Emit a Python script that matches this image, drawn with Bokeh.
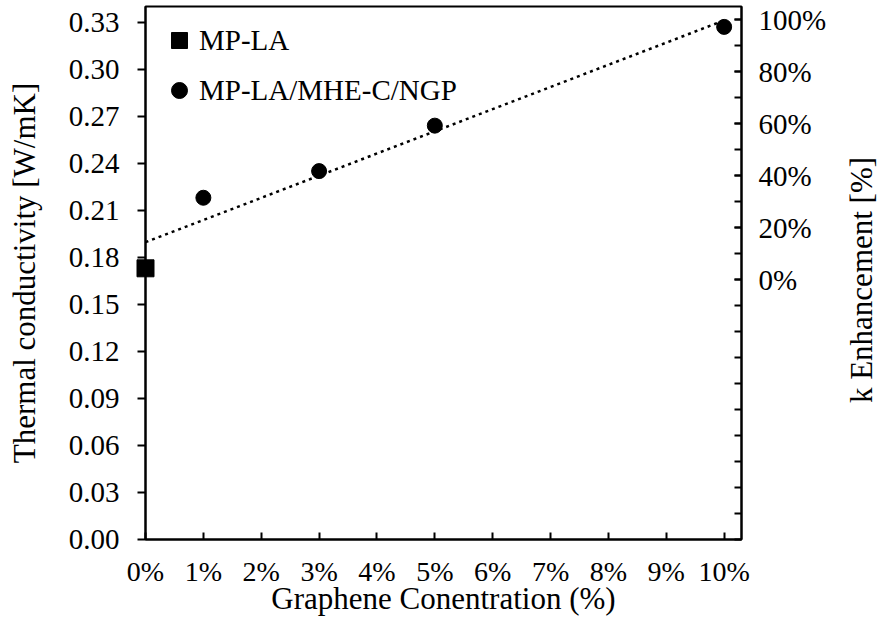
import math
import numpy as np
from bokeh.plotting import figure
from bokeh.models import (Range1d, LinearAxis, FixedTicker, Legend, LegendItem,
                          ColumnDataSource)
from bokeh.core.properties import value
from bokeh.embed import file_html
from bokeh.resources import INLINE

# ---- data ----
base_x = [0]
base_k = [0.173]
comp_x = [1, 3, 5, 10]
comp_k = [0.218, 0.235, 0.264, 0.327]

x_ticks = [0, 1, 2, 3, 4, 5, 6, 7, 8, 9, 10]
x_tick_labels = ["0%", "1%", "2%", "3%", "4%", "5%", "6%", "7%", "8%", "9%", "10%"]
k_ticks = [0.00, 0.03, 0.06, 0.09, 0.12, 0.15, 0.18, 0.21, 0.24, 0.27, 0.30, 0.33]
k_tick_labels = ["0.00", "0.03", "0.06", "0.09", "0.12", "0.15", "0.18", "0.21",
                 "0.24", "0.27", "0.30", "0.33"]
enh_ticks = [0.0, 0.2, 0.4, 0.6, 0.8, 1.0]
enh_tick_labels = ["0%", "20%", "40%", "60%", "80%", "100%"]
enh_minor_ticks = [round(-1.0 + 0.1 * i, 1) for i in range(21)]
enh_title = "k Enhancement [%]"

FONT = "Liberation Serif"
TICK_FS = "29px"
XTICK_FS = "28px"
TITLE_FS = "31px"
FRAME_W, FRAME_H = 596, 533

x_range = Range1d(0, 10.3)
y_range = Range1d(0, 0.34)

p = figure(frame_width=FRAME_W, frame_height=FRAME_H, output_backend="svg",
           toolbar_location=None, x_range=x_range, y_range=y_range,
           min_border_left=145, min_border_right=137, min_border_top=6,
           min_border_bottom=73,
           x_axis_label="Graphene Conentration (%)",
           y_axis_label="Thermal conductivity [W/mK]")
p.extra_y_ranges = {"enh": Range1d(-1.0, 1.05)}
p.xgrid.visible = False
p.ygrid.visible = False
p.outline_line_color = "black"
p.outline_line_width = 2
p.outline_line_alpha = 1.0
p.background_fill_color = "white"
p.border_fill_color = "white"

# bottom axis
xa = p.xaxis[0]
xa.ticker = FixedTicker(ticks=x_ticks, minor_ticks=[])
xa.major_label_overrides = {t: l for t, l in zip(x_ticks, x_tick_labels)}
xa.major_tick_in = 7
xa.major_tick_out = 0
xa.minor_tick_in = 0
xa.minor_tick_out = 0
xa.major_label_standoff = 16
xa.axis_label_standoff = -9

# left axis
ya = p.yaxis[0]
ya.ticker = FixedTicker(ticks=k_ticks, minor_ticks=[])
ya.major_label_overrides = {t: l for t, l in zip(k_ticks, k_tick_labels)}
ya.major_tick_in = 0
ya.major_tick_out = 8
ya.minor_tick_in = 0
ya.minor_tick_out = 0
ya.major_label_standoff = 18
ya.axis_label_standoff = 24

# right axis (secondary: k enhancement)
ra = LinearAxis(y_range_name="enh")
ra.ticker = FixedTicker(ticks=enh_ticks, minor_ticks=enh_minor_ticks)
ra.major_label_overrides = {t: l for t, l in zip(enh_ticks, enh_tick_labels)}
ra.major_tick_in = 7
ra.major_tick_out = 0
ra.minor_tick_in = 7
ra.minor_tick_out = 0
ra.major_label_standoff = 17
p.add_layout(ra, "right")

for ax in (xa, ya, ra):
    ax.axis_line_color = "black"
    ax.axis_line_width = 2
    ax.major_tick_line_color = "black"
    ax.major_tick_line_width = 2
    ax.minor_tick_line_color = "black"
    ax.minor_tick_line_width = 2
    ax.major_label_text_font = FONT
    ax.major_label_text_font_size = TICK_FS
    ax.major_label_text_font_style = "normal"
    ax.major_label_text_color = "black"
    ax.axis_label_text_font = FONT
    ax.axis_label_text_font_size = TITLE_FS
    ax.axis_label_text_font_style = "normal"
    ax.axis_label_text_color = "black"
xa.major_label_text_font_size = XTICK_FS

# right-axis title, reading bottom-to-top like the left one; placed in the
# right margin (716 px right of the frame's left edge, 7 px below its middle)
title_x = x_range.start + (x_range.end - x_range.start) * 716 / FRAME_W
title_y = y_range.start + (y_range.end - y_range.start) * (FRAME_H / 2 - 7) / FRAME_H
p.text(x=[title_x], y=[title_y], text=[enh_title], angle=math.pi / 2,
       text_align="center", text_baseline="alphabetic",
       text_font=value(FONT), text_font_size=TITLE_FS, text_color="black",
       level="overlay")

# trend line (linear fit over all measured points)
all_x = np.array(base_x + comp_x, dtype=float)
all_k = np.array(base_k + comp_k, dtype=float)
slope, intercept = np.polyfit(all_x, all_k, 1)
trend_x = [all_x.min(), all_x.max()]
trend_k = [slope * v + intercept for v in trend_x]
p.line(trend_x, trend_k, line_color="black", line_width=2.5, line_dash="3 4")

src_base = ColumnDataSource(dict(x=base_x, k=base_k))
src_comp = ColumnDataSource(dict(x=comp_x, k=comp_k))
r_sq = p.scatter("x", "k", source=src_base, marker="square", size=17,
                 fill_color="black", line_color="black", level="overlay")
r_ci = p.scatter("x", "k", source=src_comp, marker="circle", size=15,
                 fill_color="black", line_color="black", level="overlay")

legend = Legend(items=[LegendItem(label="MP-LA", renderers=[r_sq]),
                       LegendItem(label="MP-LA/MHE-C/NGP", renderers=[r_ci])],
                location="top_left")
legend.margin = 0
legend.padding = 14
legend.spacing = 10
legend.glyph_width = 40
legend.glyph_height = 40
legend.label_standoff = -6
legend.label_text_font = FONT
legend.label_text_font_size = "29px"
legend.label_text_font_style = "normal"
legend.label_text_color = "black"
legend.border_line_alpha = 0
legend.background_fill_alpha = 0
p.add_layout(legend)

open("out.html", "w").write(file_html(p, INLINE))
